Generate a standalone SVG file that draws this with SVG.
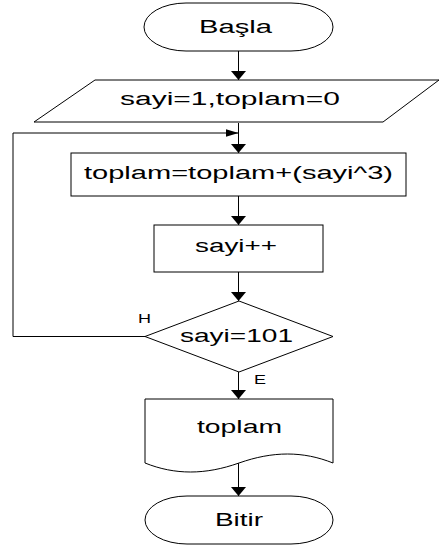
<svg xmlns="http://www.w3.org/2000/svg" width="440" height="546" viewBox="0 0 440 546">
<style>
.s{fill:#fff;stroke:#000;stroke-width:1}
.c{fill:none;stroke:#000;stroke-width:1}
.t{font-family:"Liberation Sans",Arial,sans-serif;font-size:18px;fill:#000}
.l{font-family:"Liberation Sans",Arial,sans-serif;font-size:12.5px;fill:#000}
</style>
<defs>
<marker id="av" markerUnits="userSpaceOnUse" markerWidth="10" markerHeight="16" refX="9" refY="7.5" orient="auto">
<path d="M0,0 L9,7.5 L0,15 Z" fill="#000"/>
</marker>
<marker id="ah" markerUnits="userSpaceOnUse" markerWidth="14" markerHeight="10" refX="13" refY="4.5" orient="auto">
<path d="M0,0.5 L13,4.5 L0,8.5 Z" fill="#000"/>
</marker>
</defs>
<g id="connectors">
<line class="c" x1="238.5" y1="51" x2="238.5" y2="80" marker-end="url(#av)"/>
<line class="c" x1="238.5" y1="123" x2="238.5" y2="153" marker-end="url(#av)"/>
<polyline class="c" points="145,336.5 13,336.5 13,133 238.5,133" marker-end="url(#ah)"/>
<line class="c" x1="238.5" y1="196" x2="238.5" y2="225" marker-end="url(#av)"/>
<line class="c" x1="238.5" y1="272" x2="238.5" y2="301" marker-end="url(#av)"/>
<line class="c" x1="238.5" y1="372" x2="238.5" y2="399" marker-end="url(#av)"/>
<line class="c" x1="238.5" y1="463" x2="238.5" y2="496" marker-end="url(#av)"/>
<text class="l" x="138" y="323" textLength="13" lengthAdjust="spacingAndGlyphs">H</text>
<text class="l" x="254" y="384" textLength="12" lengthAdjust="spacingAndGlyphs">E</text>
</g>
<g id="basla">
<rect class="s" x="144" y="3" width="189" height="48" rx="42" ry="24"/>
<text class="t" x="199" y="33" textLength="73" lengthAdjust="spacingAndGlyphs">Başla</text>
</g>
<g id="input">
<polygon class="s" points="95,80 439,80 383,122 34,122"/>
<text class="t" x="120" y="105" textLength="220" lengthAdjust="spacingAndGlyphs">sayi=1,toplam=0</text>
</g>
<g id="sum">
<rect class="s" x="71" y="153" width="335" height="43"/>
<text class="t" x="84" y="179" textLength="309" lengthAdjust="spacingAndGlyphs">toplam=toplam+(sayi^3)</text>
</g>
<g id="inc">
<rect class="s" x="154" y="225" width="169" height="47"/>
<text class="t" x="195" y="252" textLength="82" lengthAdjust="spacingAndGlyphs">sayi++</text>
</g>
<g id="decision">
<polygon class="s" points="239,301 333,336.5 239,372 145,336.5"/>
<text class="t" x="180" y="342" textLength="113" lengthAdjust="spacingAndGlyphs">sayi=101</text>
</g>
<g id="output">
<path class="s" d="M145,399 L333,399 L333,463 C303,451 273,451 239,463 C205,475 175,475 145,463 Z"/>
<text class="t" x="197" y="433" textLength="85" lengthAdjust="spacingAndGlyphs">toplam</text>
</g>
<g id="bitir">
<rect class="s" x="145" y="496" width="188" height="48" rx="42" ry="24"/>
<text class="t" x="215" y="526" textLength="48" lengthAdjust="spacingAndGlyphs">Bitir</text>
</g>
</svg>
